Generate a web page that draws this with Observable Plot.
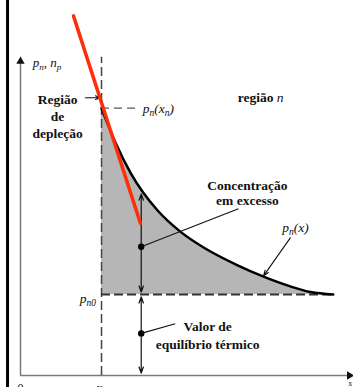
<!DOCTYPE html>
<html>
<head>
<meta charset="utf-8">
<script src="https://cdn.jsdelivr.net/npm/d3@7"></script>
<script src="https://cdn.jsdelivr.net/npm/@observablehq/plot@0.6"></script>
<style>
  html, body { margin: 0; padding: 0; background: #fff; }
  #chart { width: 353px; height: 387px; overflow: hidden; }
</style>
</head>
<body>
<div id="chart"></div>
<script>
// Excess hole concentration p_n(x) on the n side of the depletion edge x_n
const curveX = [1.0, 1.17, 1.36, 1.69, 1.98, 2.26, 2.68, 3.00, 3.33, 3.58, 3.86];
const curveP = [3.30, 2.88, 2.50, 2.04, 1.77, 1.58, 1.36, 1.22, 1.10, 1.03, 1.00];
const xn = 1.0;        // depletion edge
const pn0 = 1.0;       // thermal-equilibrium value
const pnXn = 3.30;     // p_n(x_n)
// hand-drawn slope line near x_n
const slopeX = [0.654, 1.48];
const slopeP = [4.44, 1.88];
// position of the double arrows and their dots
const markerX = 1.49;
const excessDotP = 1.59;
const equilDotP = 0.52;
const tickLabels = ["0", "x_{n}"];
const tickValues = [0, xn];

const curve = curveX.map((x, i) => ({x, p: curveP[i]}));
const xEnd = curveX[curveX.length - 1];
const pAtMarker = 2.27;

const ink = "#111";
const axisGray = "#7a7a7a";

const chart = Plot.plot({
  width: 353,
  height: 387,
  margin: 0,
  style: {background: "#fff", fontFamily: "'Liberation Serif', serif", fontSize: "13px"},
  x: {domain: [0, 4.11], range: [20, 353], axis: null},
  y: {domain: [0, 4.63], range: [375, 0], axis: null},
  marks: [
    // left frame line
    Plot.ruleX([-0.16], {stroke: "#000", strokeWidth: 3}),
    // shaded excess region
    Plot.areaY(curve, {x: "x", y1: pn0, y2: "p", curve: "monotone-x", fill: "#b6b6b6"}),
    // axes
    Plot.ruleX([0], {y1: 0, y2: 3.9, stroke: axisGray, strokeWidth: 1.5}),
    Plot.ruleY([0], {x1: 0, x2: 4.05, stroke: axisGray, strokeWidth: 1.5}),
    Plot.dot([{x: 0, y: 3.88}], {x: "x", y: "y", symbol: "triangle2", r: 4, fill: "#111", stroke: null}),
    Plot.dot([{x: 4.06, y: 0}], {x: "x", y: "y", symbol: "triangle2", r: 4, fill: "#111", stroke: null, rotate: 90}),
    // depletion edge
    Plot.ruleX([xn], {y1: 0, y2: 3.93, stroke: "#444", strokeWidth: 1.5, strokeDasharray: "9,4"}),
    // equilibrium level
    Plot.ruleY([pn0], {x1: xn, x2: xEnd, stroke: "#333", strokeWidth: 2, strokeDasharray: "9,4"}),
    // p_n(x_n) level
    Plot.ruleY([pnXn], {x1: xn, x2: 1.48, stroke: "#555", strokeWidth: 1.2, strokeDasharray: "8,5"}),
    // concentration curve
    Plot.line(curve, {x: "x", y: "p", curve: "monotone-x", stroke: "#000", strokeWidth: 2.5}),
    // double arrows
    Plot.arrow([
      {x1: markerX, y1: excessDotP, x2: markerX, y2: pAtMarker - 0.03},
      {x1: markerX, y1: excessDotP, x2: markerX, y2: pn0 + 0.03},
      {x1: markerX, y1: equilDotP, x2: markerX, y2: pn0 - 0.03},
      {x1: markerX, y1: equilDotP, x2: markerX, y2: 0.03}
    ], {x1: "x1", y1: "y1", x2: "x2", y2: "y2", stroke: ink, strokeWidth: 1.2, headLength: 8, headAngle: 40}),
    Plot.dot([excessDotP, equilDotP], {x: markerX, y: d => d, r: 3.2, fill: "#000", stroke: null}),
    // leader lines
    Plot.link([{x1: markerX, y1: excessDotP, x2: 2.69, y2: 2.06}, {x1: markerX, y1: equilDotP, x2: 1.91, y2: 0.64}],
      {x1: "x1", y1: "y1", x2: "x2", y2: "y2", stroke: ink, strokeWidth: 1.1}),
    Plot.arrow([{x1: 3.33, y1: 1.70, x2: 3.0, y2: 1.23}], {x1: "x1", y1: "y1", x2: "x2", y2: "y2", stroke: ink, strokeWidth: 1.1, headLength: 8, headAngle: 40}),
    Plot.arrow([{x1: 0.80, y1: 3.43, x2: 0.975, y2: 3.43}], {x1: "x1", y1: "y1", x2: "x2", y2: "y2", stroke: ink, strokeWidth: 1.1, headLength: 6, headAngle: 50}),
    // slope line
    Plot.line(slopeX.map((x, i) => ({x, p: slopeP[i]})), {x: "x", y: "p", stroke: "#ff2d0a", strokeWidth: 3.5}),
    // labels
    Plot.text(["Região\nde\ndepleção"], {x: 0.457, y: 3.21, fontWeight: "bold", fill: "#111", lineHeight: 1.25, fontSize: 13.5}),
    Plot.text(["região *n*"], {x: 2.68, y: 3.43, textAnchor: "start", fontWeight: "bold", fill: "#111", fontSize: 13.5}),
    Plot.text(["Concentração\nem excesso"], {x: 2.8, y: 2.26, fontWeight: "bold", fill: "#111", lineHeight: 1.1, fontSize: 13.5}),
    Plot.text(["Valor de\nequilíbrio térmico"], {x: 2.31, y: 0.51, fontWeight: "bold", fill: "#111", lineHeight: 1.35, fontSize: 13.5}),
    Plot.text(["p_{n}(x_{n})"], {x: 1.51, y: pnXn, textAnchor: "start", fontStyle: "italic", fill: "#111", fontSize: 13.5}),
    Plot.text(["p_{n}(x)"], {x: 3.23, y: 1.82, textAnchor: "start", fontStyle: "italic", fill: "#111", fontSize: 13.5}),
    Plot.text(["p_{n0}"], {x: 0.93, y: pn0 - 0.05, textAnchor: "end", fontStyle: "italic", fill: "#111", fontSize: 13.5}),
    Plot.text(["p_{n}, n_{p}"], {x: 0.15, y: 3.86, textAnchor: "start", fontStyle: "italic", fill: "#111", fontSize: 13}),
    Plot.text(tickLabels, {x: (d, i) => tickValues[i], y: -0.155, fill: "#111", fontSize: 12}),
    Plot.text(["x"], {x: 4.07, y: -0.1, fill: "#111", fontSize: 8})
  ]
});

// turn _{...} into subscripts and *...* into italic runs
function richText(svg) {
  svg.querySelectorAll("text").forEach(t => {
    if (t.querySelector("tspan")) return;
    const s = t.textContent;
    if (!/_\{|\*/.test(s)) return;
    const parts = s.split(/(_\{[^}]*\}|\*[^*]*\*)/).filter(p => p.length);
    t.textContent = "";
    let shifted = false;
    const ns = "http://www.w3.org/2000/svg";
    parts.forEach(p => {
      const ts = document.createElementNS(ns, "tspan");
      if (p.startsWith("_{")) {
        ts.textContent = p.slice(2, -1);
        ts.setAttribute("font-size", "0.7em");
        ts.setAttribute("dy", shifted ? "0" : "0.32em");
        shifted = true;
      } else {
        if (p.startsWith("*")) {
          ts.textContent = p.slice(1, -1);
          ts.setAttribute("font-style", "italic");
          ts.setAttribute("font-weight", "normal");
        } else {
          ts.textContent = p;
        }
        if (shifted) { ts.setAttribute("dy", "-0.224em"); shifted = false; }
      }
      t.appendChild(ts);
    });
  });
}
richText(chart);
document.getElementById("chart").appendChild(chart);
</script>
</body>
</html>
